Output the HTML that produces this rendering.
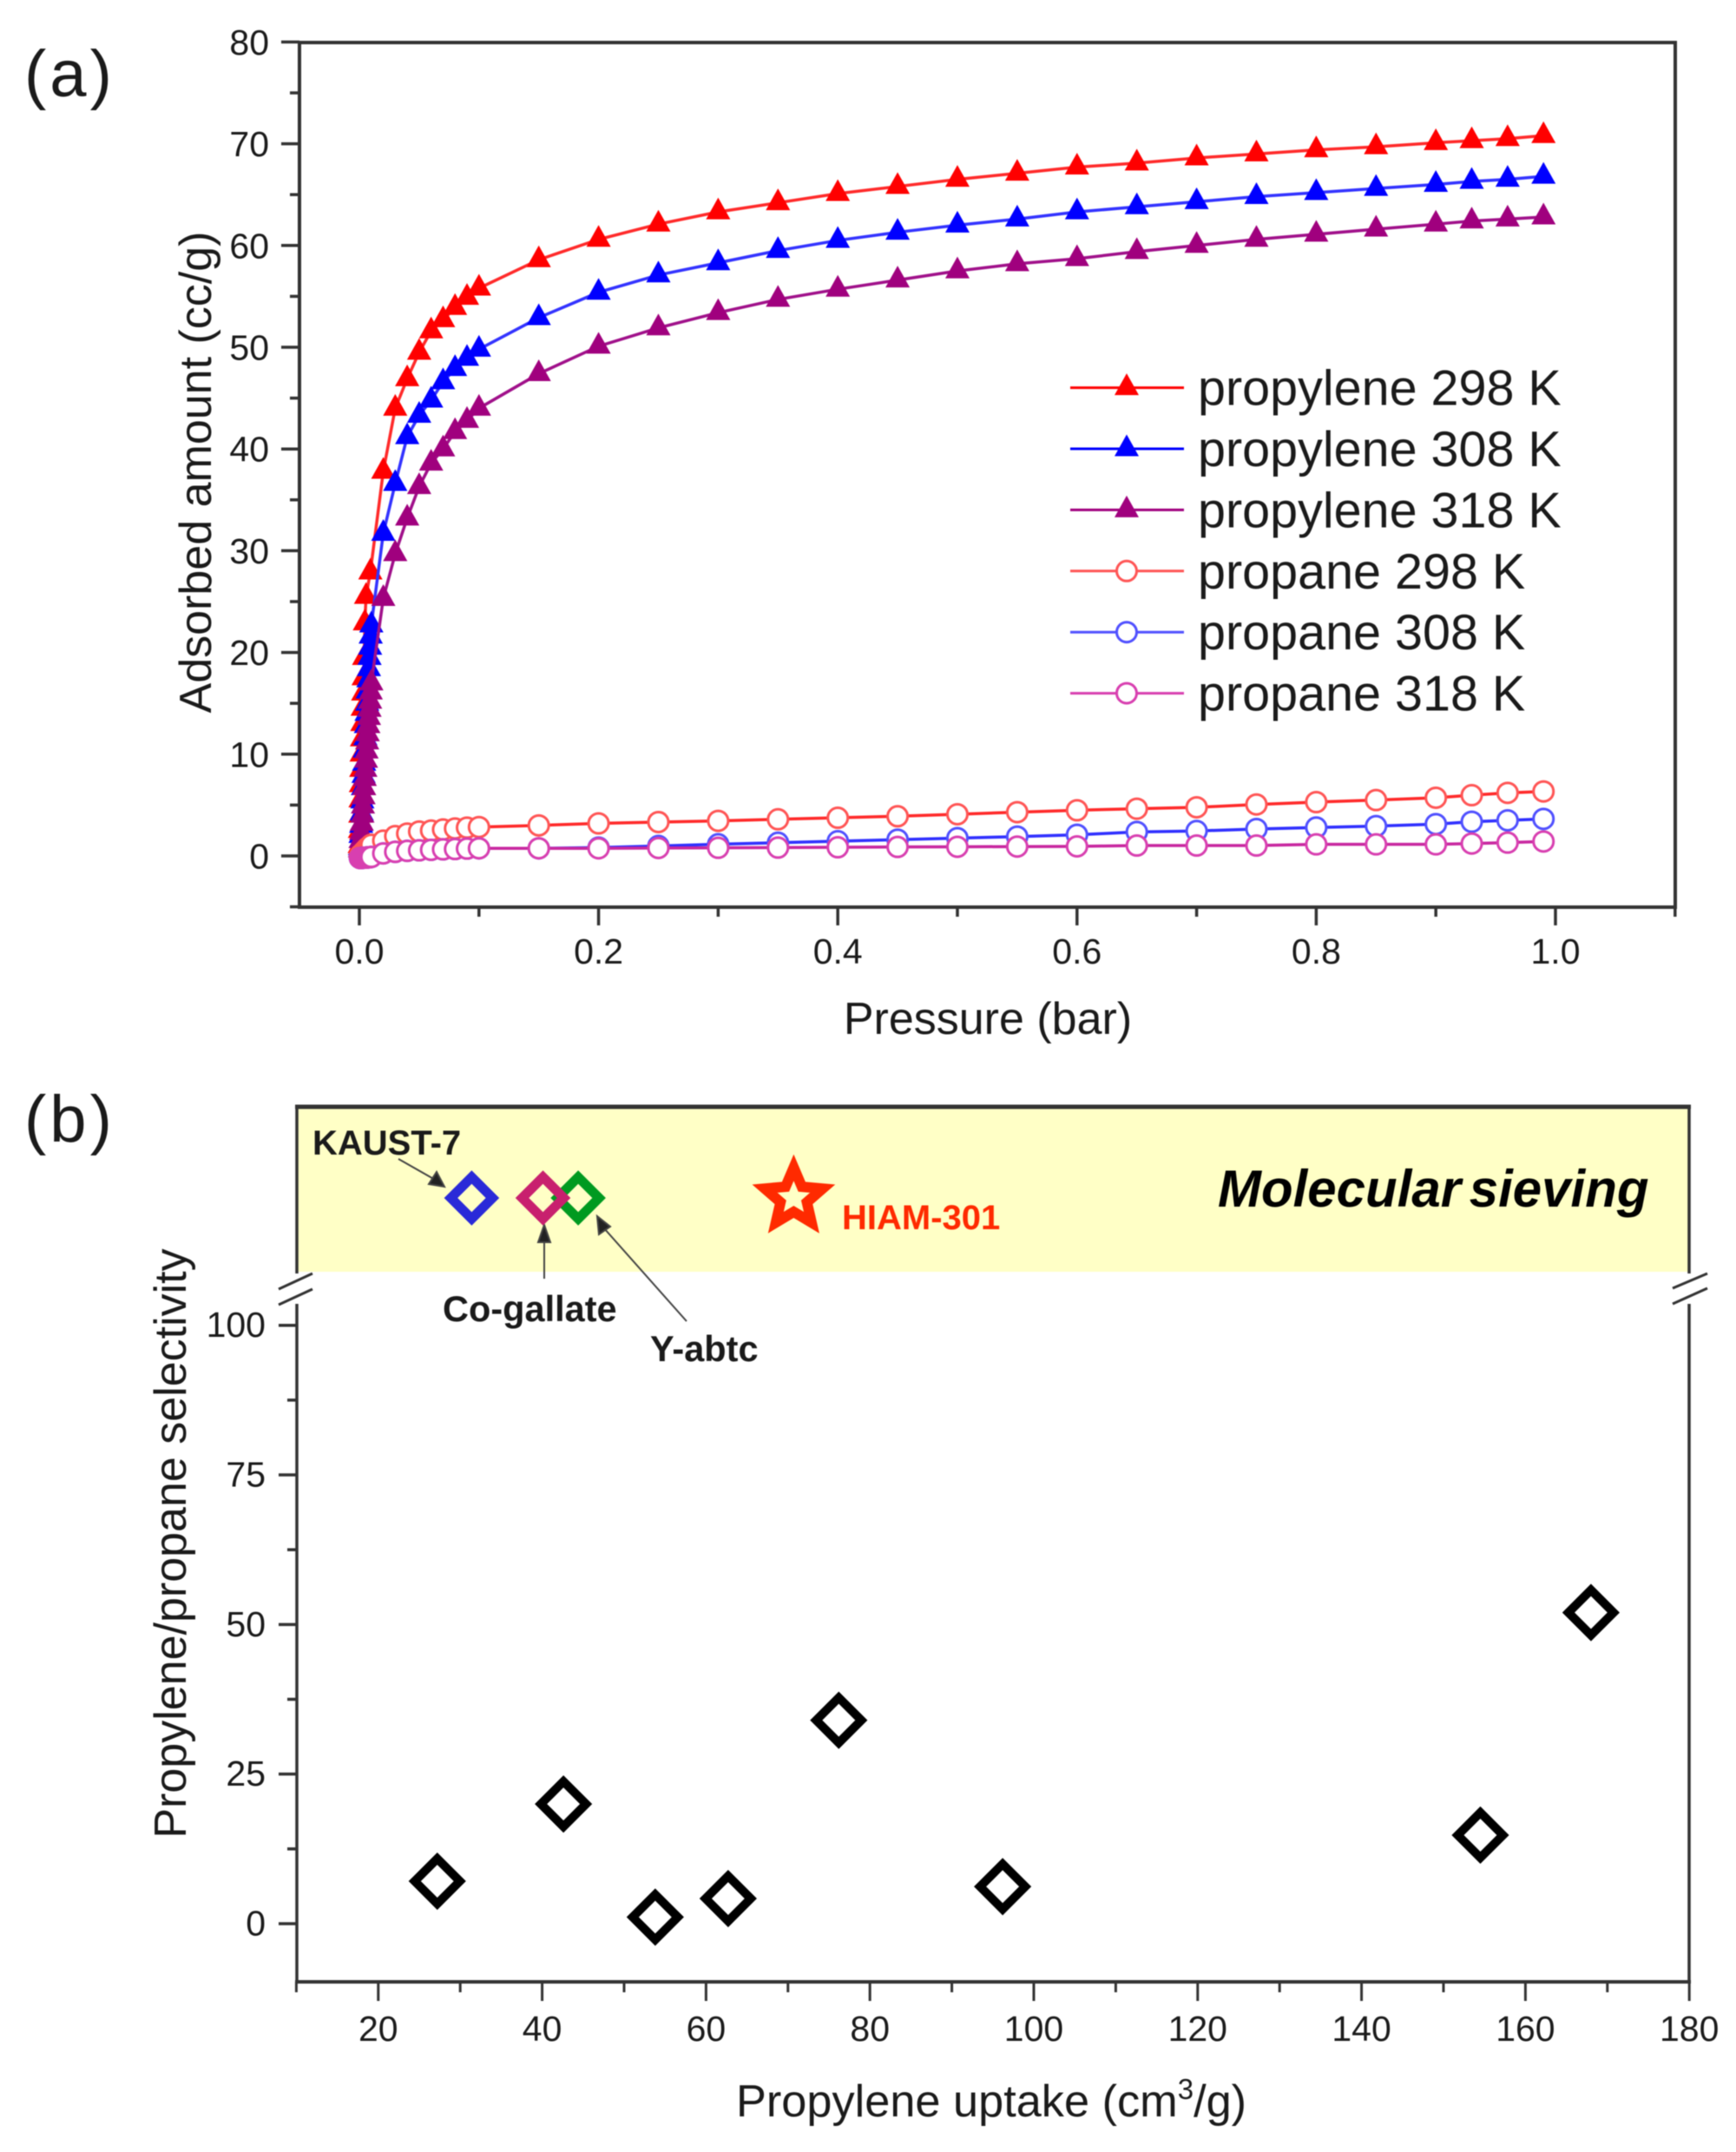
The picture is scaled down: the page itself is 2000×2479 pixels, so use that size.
<!DOCTYPE html>
<html lang="en">
<head>
<meta charset="utf-8">
<title>Propylene and propane adsorption charts</title>
<style>
html,body{margin:0;padding:0;background:#fff;}
#figure{display:block;width:2000px;height:2479px;filter:blur(0.6px);font-family:"Liberation Sans",Arial,sans-serif;}
text{fill:#1a1a1a;}
</style>
</head>
<body>
<svg id="figure" xmlns="http://www.w3.org/2000/svg" width="2000" height="2479" viewBox="0 0 2000 2479">
  <rect x="0" y="0" width="2000" height="2479" fill="#ffffff"/>
  <text x="28" y="111" font-size="76" letter-spacing="4">(a)</text>
  <text x="28" y="1315" font-size="76" letter-spacing="4">(b)</text>
  <text x="1138" y="1186" font-size="52" text-anchor="middle" dy="5">Pressure (bar)</text>
  <text transform="translate(243,544) rotate(-90)" font-size="52" text-anchor="middle">Adsorbed amount (cc/g)</text>
  <rect x="342" y="1275" width="1604" height="190" fill="#ffffc6"/>
  <text x="848" y="2438" font-size="52.3">Propylene uptake (cm<tspan font-size="33" dy="-20">3</tspan><tspan dy="20">/g)</tspan></text>
  <text transform="translate(214,1778) rotate(-90)" font-size="52" text-anchor="middle">Propylene/propane selectivity</text>
  <text x="1403" y="1390" font-size="60" font-weight="bold" font-style="italic" word-spacing="-7" style="fill:#000">Molecular sieving</text>
  <text x="360" y="1330" font-size="40" font-weight="bold">KAUST-7</text>
  <text x="510" y="1522" font-size="41.5" font-weight="bold">Co-gallate</text>
  <text x="749" y="1568" font-size="41.5" font-weight="bold">Y-abtc</text>
  <text x="970" y="1416" font-size="40" font-weight="bold" style="fill:#ff2a00">HIAM-301</text>
  <g stroke="#444" stroke-width="2" fill="#222">
    <line x1="459" y1="1335" x2="503" y2="1360"/>
    <polygon points="512,1367 494,1364 503,1350"/>
    <line x1="627" y1="1473" x2="627" y2="1425"/>
    <polygon points="627,1411 620,1431 634,1431"/>
    <line x1="791" y1="1522" x2="696" y2="1415"/>
    <polygon points="688,1401 690,1422 703,1413"/>
  </g>
  <g id="layer-a-axes"></g>
  <g id="layer-a-series"></g>
  <g id="layer-a-legend"></g>
  <g id="layer-b-axes"></g>
  <g id="layer-b-points"></g>
</svg>
<script>
// ---- panel (a) data ----
const kneePressure=[.02,.03,.04,.05,.06,.07,.08,.09,.1,.15,.2,.25,.3,.35,.4,.45,.5,.55,.6,.65,.7,.75,.8,.85,.9,.93,.96,.99];
const propylene298Knee=[37.8,44,46.9,49.5,51.6,52.7,53.9,54.9,55.8,58.6,60.6,62.1,63.3,64.2,65.1,65.8,66.5,67.1,67.7,68.1,68.6,69,69.4,69.7,70.1,70.3,70.5,70.8];
const propylene308Knee=[31.7,36.6,41.2,43.3,44.8,46.6,47.9,48.9,49.8,52.9,55.4,57.1,58.3,59.5,60.5,61.3,62,62.6,63.3,63.8,64.3,64.8,65.2,65.6,66,66.3,66.5,66.8];
const propylene318Knee=[25.3,29.7,33.2,36.3,38.6,40,41.7,42.8,44,47.4,50.1,51.9,53.4,54.7,55.7,56.6,57.5,58.2,58.7,59.4,60,60.6,61.1,61.6,62.1,62.4,62.6,62.8];
const propylene298LowP=[.0003,.0005,.0008,.001,.0013,.0016,.0019,.0022,.0025,.0028,.0032,.0036,.004,.0046,.0056,.0092];
const propylene298Low=[1,2.5,4,5.5,7,8.5,10,11.5,13,14.5,16,17.5,19.5,22.9,25.5,27.9];
const propyleneLowP=[.0005,.001,.0015,.002,.0025,.003,.0035,.004,.0045,.005,.0055,.006,.0065,.007,.0075,.008,.0085,.009,.0095,.01];
const propylene308Low=[.8,2,3,4.2,5.4,6.7,7.9,9.1,10.4,11.6,12.8,14,15,16.2,17.3,18.4,19.5,20.5,21.6,22.7];
const propylene318Low=[.6,1.5,2.3,3.2,4,4.9,5.8,6.7,7.6,8.5,9.4,10.3,11.2,12,12.8,13.6,14.4,15.2,16.1,17];
const propanePressure=[.0005,.001,.002,.003,.004,.005,.006,.007,.008,.009,.01,.02,.03,.04,.05,.06,.07,.08,.09,.1,.15,.2,.25,.3,.35,.4,.45,.5,.55,.6,.65,.7,.75,.8,.85,.9,.93,.96,.99];
const propane298=[0,.1,.2,.3,.45,.55,.7,.8,.9,1,1.1,1.5,1.95,2.2,2.4,2.5,2.6,2.7,2.78,2.84,3,3.2,3.33,3.45,3.6,3.75,3.9,4.1,4.3,4.49,4.64,4.78,5.06,5.29,5.49,5.72,5.97,6.2,6.34];
const propane308=[-.2,-.2,-.2,-.18,-.18,-.16,-.16,-.14,-.14,-.12,-.1,.25,.4,.5,.55,.6,.65,.68,.72,.75,.75,.82,.98,1.15,1.3,1.45,1.6,1.75,1.9,2.08,2.36,2.45,2.65,2.79,2.93,3.13,3.36,3.5,3.64];
const propane318=[-.2,-.2,-.2,-.18,-.18,-.16,-.16,-.14,-.14,-.12,-.1,.25,.4,.5,.55,.6,.65,.68,.72,.75,.75,.75,.78,.8,.82,.85,.88,.9,.92,.94,1.02,1.02,1.02,1.14,1.14,1.14,1.22,1.31,1.42];
const aXMajor=[0,.2,.4,.6,.8,1];
const aXMinor=[.1,.3,.5,.7,.9,1.1];
const aYMajor=[0,10,20,30,40,50,60,70,80];
const aYMinor=[-5,5,15,25,35,45,55,65,75];
const legendLabels=["propylene 298 K","propylene 308 K","propylene 318 K","propane 298 K","propane 308 K","propane 318 K"];

// ---- panel (b) data ----
const literatureUptake=[27.2,42.6,53.8,62.7,76.2,96.2,154.5,168];
const literatureSelectivity=[7.1,20,1.1,4.2,34,6.2,14.8,52];
const sievingUptake=[31.4,44.4,40.1];
const sievingLevel=[1,1,1];
const hiamUptake=[70.7];
const hiamLevel=[1];
const bXMajor=[20,40,60,80,100,120,140,160,180];
const bXMinor=[10,30,50,70,90,110,130,150,170];
const bYMajor=[0,25,50,75,100];
const bYMinor=[12.5,37.5,62.5,87.5];

const SVG_NS="http://www.w3.org/2000/svg";
function make(tag,attrs,parent,text){
  const node=document.createElementNS(SVG_NS,tag);
  for(const k in attrs){node.setAttribute(k,attrs[k]);}
  if(text!==undefined){node.textContent=text;}
  parent.appendChild(node);
  return node;
}
const ax=p=>414+1378*p;
const ay=v=>986-11.72*v;
const bx=u=>247+9.44*u;
const by=v=>2216-6.893*v;
const byTop=l=>1380-(l-1)*200;

const AXIS="#333333";
const aAxes=document.getElementById("layer-a-axes");
const bAxes=document.getElementById("layer-b-axes");

function spine(parent,x1,y1,x2,y2,w,name){
  const l=make("line",{x1:x1,y1:y1,x2:x2,y2:y2,stroke:AXIS,"stroke-width":w},parent);
  
  
  return l;
}

// panel a frame
spine(aAxes,345,47,345,1047,4,"panel-a-left-spine");
spine(aAxes,343,49,1932,49,4,"panel-a-top-spine");
spine(aAxes,1930,47,1930,1047,4,"panel-a-right-spine");
spine(aAxes,343,1045,1932,1045,4,"panel-a-bottom-spine");
aYMajor.forEach(v=>{
  spine(aAxes,324,ay(v),345,ay(v),3.5,"y-tick-major");
  const t=make("text",{x:310,y:ay(v)+14.5,"font-size":41,"text-anchor":"end"},aAxes,String(v));
  
  
});
aYMinor.forEach(v=>{spine(aAxes,334,ay(v),345,ay(v),3.5,"y-tick-minor");});
aXMajor.forEach(p=>{
  spine(aAxes,ax(p),1045,ax(p),1066,3.5,"x-tick-major");
  const t=make("text",{x:ax(p),y:1110,"font-size":41,"text-anchor":"middle"},aAxes,p.toFixed(1));
  
  
});
aXMinor.forEach(p=>{spine(aAxes,ax(p),1045,ax(p),1056,3.5,"x-tick-minor");});

// series
const aSeries=document.getElementById("layer-a-series");
function triangle(parent,x,y,color){
  const m=make("polygon",{points:(x-14)+","+(y+8.5)+" "+(x+14)+","+(y+8.5)+" "+x+","+(y-16.5),fill:color},parent);
  
  
}
function circle(parent,x,y,color){
  const m=make("circle",{cx:x,cy:y,r:11.5,fill:"#ffffff",stroke:color,"stroke-width":3},parent);
  
  
}
function drawSeries(name,ps,vs,color,lineColor,marker){
  const g=make("g",{},aSeries);
  
  
  const pts=ps.map((p,i)=>ax(p)+","+ay(vs[i])).join(" ");
  const line=make("polyline",{points:pts,fill:"none",stroke:lineColor,"stroke-width":3.5},g);
  
  
  ps.forEach((p,i)=>{marker(g,ax(p),ay(vs[i]),color);});
}
const RED="#ff0000",BLUE="#0000ff",PURPLE="#a0007e",LRED="#ff5555",LBLUE="#5050ff",PINK="#d83fb0";
drawSeries("propylene-298k",propylene298LowP.concat(kneePressure),propylene298Low.concat(propylene298Knee),RED,"#ff2a2a",triangle);
drawSeries("propylene-308k",propyleneLowP.concat(kneePressure),propylene308Low.concat(propylene308Knee),BLUE,"#3333ff",triangle);
drawSeries("propylene-318k",propyleneLowP.concat(kneePressure),propylene318Low.concat(propylene318Knee),PURPLE,"#a0108a",triangle);
drawSeries("propane-298k",propanePressure,propane298,LRED,"#ff2a2a",circle);
drawSeries("propane-308k",propanePressure,propane308,LBLUE,"#3030ff",circle);
drawSeries("propane-318k",propanePressure,propane318,PINK,"#c828a0",circle);

// legend
const legend=document.getElementById("layer-a-legend");
const legendColors=[RED,BLUE,PURPLE,LRED,LBLUE,PINK];
legendLabels.forEach((label,i)=>{
  const y=446.6+i*70.4;
  const g=make("g",{},legend);
  
  
  make("line",{x1:1233,y1:y,x2:1364,y2:y,stroke:legendColors[i],"stroke-width":3},g);
  if(i<3){triangle(g,1298,y,legendColors[i]);}else{circle(g,1298,y,legendColors[i]);}
  const t=make("text",{x:1380,y:y+20,"font-size":57.5},g,label);
  
  
});

// panel b frame
spine(bAxes,342,1273,342,1467,3.5,"panel-b-left-spine-upper");
spine(bAxes,342,1502,342,2285,3.5,"panel-b-left-spine-lower");
spine(bAxes,1946,1273,1946,1467,3.5,"panel-b-right-spine-upper");
spine(bAxes,1946,1502,1946,2285,3.5,"panel-b-right-spine-lower");
spine(bAxes,340,1275,1948,1275,5,"panel-b-top-spine");
spine(bAxes,340,2283,1948,2283,4,"panel-b-bottom-spine");
[[321,1485,360,1467],[321,1503,360,1485],[1927,1484,1967,1467],[1927,1502,1967,1484]].forEach(c=>{
  spine(bAxes,c[0],c[1],c[2],c[3],3,"axis-break-mark");
});
bYMajor.forEach(v=>{
  spine(bAxes,321,by(v),342,by(v),3.5,"y-tick-major");
  const t=make("text",{x:306,y:by(v)+13.5,"font-size":41,"text-anchor":"end"},bAxes,String(v));
  
  
});
bYMinor.forEach(v=>{spine(bAxes,331,by(v),342,by(v),3.5,"y-tick-minor");});
bXMajor.forEach(u=>{
  spine(bAxes,bx(u),2283,bx(u),2305,3,"x-tick-major");
  const t=make("text",{x:bx(u),y:2351,"font-size":41,"text-anchor":"middle"},bAxes,String(u));
  
  
});
bXMinor.forEach(u=>{spine(bAxes,bx(u),2283,bx(u),2295,3,"x-tick-minor");});

// panel b points
const bPoints=document.getElementById("layer-b-points");
function diamond(x,y,d,w,color,name){
  const m=make("polygon",{points:(x-d)+","+y+" "+x+","+(y-d)+" "+(x+d)+","+y+" "+x+","+(y+d),fill:"none",stroke:color,"stroke-width":w,"stroke-miterlimit":10},bPoints);
  
  
}
literatureUptake.forEach((u,i)=>{diamond(bx(u),by(literatureSelectivity[i]),26,10,"#000000","literature-point");});
const sievingColors=["#2a2ad8","#009a20","#c8206e"];
const sievingNames=["kaust-7-point","y-abtc-point","co-gallate-point"];
sievingUptake.forEach((u,i)=>{diamond(bx(u),byTop(sievingLevel[i]),24,11,sievingColors[i],sievingNames[i]);});
hiamUptake.forEach((u,i)=>{
  const cx=bx(u),cy=byTop(hiamLevel[i]);
  const coords=[];
  for(let k=0;k<10;k++){
    const r=k%2===0?35:16;
    const ang=-Math.PI/2+k*Math.PI/5;
    coords.push((cx+r*Math.cos(ang))+","+(cy+r*Math.sin(ang)));
  }
  const s=make("polygon",{points:coords.join(" "),fill:"none",stroke:"#ff2a00","stroke-width":12,"stroke-miterlimit":10},bPoints);
  
  
});
</script>
</body>
</html>
